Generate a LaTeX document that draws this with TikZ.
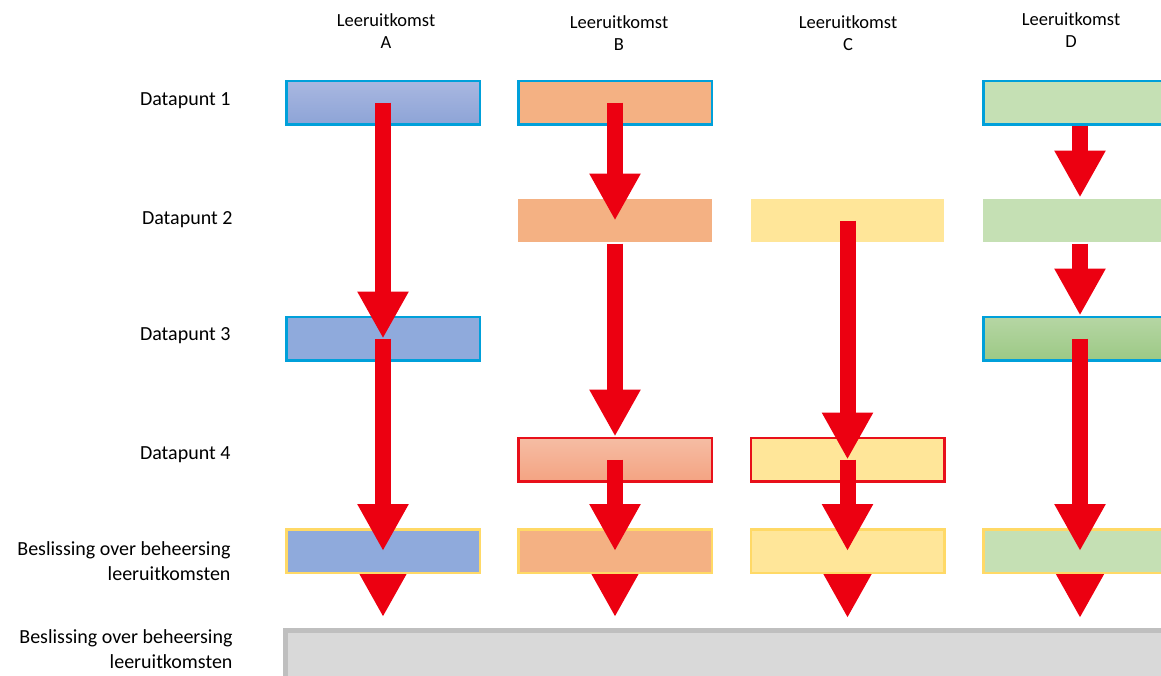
\documentclass[tikz,border=0pt]{standalone}
\usepackage{fontspec}
\setmainfont{Carlito}
\usetikzlibrary{arrows.meta}

\definecolor{blueA}{HTML}{8FAADC}
\definecolor{blueAtop}{HTML}{A9B7E0}
\definecolor{blueAbot}{HTML}{8DA4D7}
\definecolor{orangeB}{HTML}{F4B183}
\definecolor{orangeBtop}{HTML}{F5BDA4}
\definecolor{orangeBbot}{HTML}{F4A382}
\definecolor{yellowC}{HTML}{FFE699}
\definecolor{greenD}{HTML}{C5E0B4}
\definecolor{greenDtop}{HTML}{B6D6A4}
\definecolor{greenDbot}{HTML}{9CC985}
\definecolor{cyanrim}{HTML}{00A0DA}
\definecolor{redrim}{HTML}{E8101A}
\definecolor{yellowrim}{HTML}{FFD966}
\definecolor{arrowred}{HTML}{EC0011}
\definecolor{barfill}{HTML}{D9D9D9}
\definecolor{barrim}{HTML}{BFBFBF}

\pgfdeclarelayer{back}
\pgfsetlayers{back,main}

\tikzset{
  box/.style={minimum width=193.5pt, minimum height=43.5pt, inner sep=0pt, line width=2.5pt},
  head/.style={font=\fontsize{18.5}{22}\selectfont, align=center},
  rowlabel/.style={font=\fontsize{20}{25}\selectfont, align=right, anchor=east},
  bigarrow/.style={draw=arrowred, line width=16pt, -{Triangle[length=47pt,width=48pt]}, arrowred}
}

\begin{document}
\begin{tikzpicture}[x=1pt, y=-1pt]
      \useasboundingbox (0,0) rectangle (1161,675);
      \clip (0,0) rectangle (1161,675);
      % column headers
      \node[head] (hA) at (386,31) {Leeruitkomst\\A};
      \node[head] (hB) at (619,33) {Leeruitkomst\\B};
      \node[head] (hC) at (848,33) {Leeruitkomst\\C};
      \node[head] (hD) at (1071,30) {Leeruitkomst\\D};
      % row labels
      \node[rowlabel] (l1) at (234,101) {Datapunt 1};
      \node[rowlabel] (l2) at (236,220) {Datapunt 2};
      \node[rowlabel] (l3) at (234,336) {Datapunt 3};
      \node[rowlabel] (l4) at (234,455) {Datapunt 4};
      \node[rowlabel] (l5) at (234,561) {Beslissing over beheersing\\leeruitkomsten};
      \node[rowlabel] (l6) at (236,649) {Beslissing over beheersing\\leeruitkomsten};
      % boxes
      \node[box, draw=cyanrim, top color=blueAtop, bottom color=blueAbot] (a1) at (383,102.5) {};
      \node[box, draw=cyanrim, fill=blueA] (a3) at (383,338.5) {};
      \node[box, draw=yellowrim, fill=blueA] (a5) at (383,551) {};
      \node[box, draw=cyanrim, fill=orangeB] (b1) at (615,102.5) {};
      \node[box, fill=orangeB] (b2) at (615,220.5) {};
      \node[box, draw=redrim, top color=orangeBtop, bottom color=orangeBbot] (b4) at (615,459.5) {};
      \node[box, draw=yellowrim, fill=orangeB] (b5) at (615,551) {};
      \node[box, fill=yellowC] (c2) at (847.5,220.5) {};
      \node[box, draw=redrim, fill=yellowC] (c4) at (847.5,459.5) {};
      \node[box, draw=yellowrim, fill=yellowC] (c5) at (847.5,551) {};
      \node[box, draw=cyanrim, fill=greenD] (d1) at (1080,102.5) {};
      \node[box, fill=greenD] (d2) at (1080,220.5) {};
      \node[box, draw=cyanrim, top color=greenDtop, bottom color=greenDbot] (d3) at (1080,338.5) {};
      \node[box, draw=yellowrim, fill=greenD] (d5) at (1080,551) {};
      % decision bar and last arrows behind
      \coordinate (eA) at (383,617);
      \coordinate (eB) at (615,617);
      \coordinate (eC) at (847.5,618);
      \coordinate (eD) at (1080,618);
      \begin{pgfonlayer}{back}
      \draw[draw=barrim, fill=barfill, line width=5pt] (285.5,630.5) rectangle (1200,700);
      \draw[bigarrow] (a5.center) -- (eA);
      \draw[bigarrow] (b5.center) -- (eB);
      \draw[bigarrow] (c5.center) -- (eC);
      \draw[bigarrow] (d5.center) -- (eD);
      \end{pgfonlayer}
      % arrows between data points
      \draw[bigarrow] (a1.center) -- (a3.center);
      \draw[bigarrow] (a3.center) -- (a5.center);
      \draw[bigarrow] (b1.center) -- (b2.center);
      \draw[bigarrow] (b2.south) -- (b4.north);
      \draw[bigarrow] (b4.center) -- (b5.center);
      \draw[bigarrow] (c2.center) -- (c4.center);
      \draw[bigarrow] (c4.center) -- (c5.center);
      \draw[bigarrow] (d1.south) -- (d2.north);
      \draw[bigarrow] (d2.south) -- (d3.north);
      \draw[bigarrow] (d3.center) -- (d5.center);
    \end{tikzpicture}
\end{document}
